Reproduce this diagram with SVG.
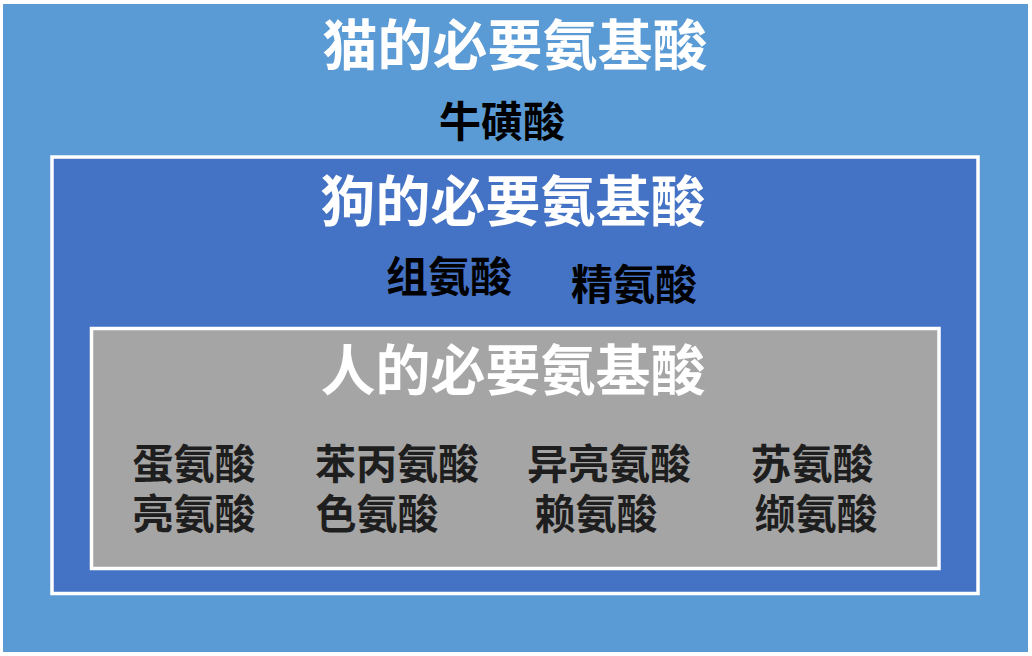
<svg xmlns="http://www.w3.org/2000/svg" width="1032" height="656" viewBox="0 0 1032 656">
<style>
.t{font-family:"Noto Sans CJK SC","Noto Sans CJK JP",sans-serif;font-weight:bold;text-anchor:middle}
.title{font-size:55px;fill:#FFFFFF}
.item{font-size:42px;fill:#000000}
.gitem{font-size:41px;fill:#1E1E1E}
.frame{stroke:#FFFFFF;stroke-width:3.5}
</style>
<rect width="1032" height="656" fill="#FFFFFF"/>
<g id="cat">
<rect x="3" y="4" width="1025" height="648" fill="#5B9BD5"/>
<text class="t title" x="515" y="65">猫的必要氨基酸</text>
<text class="t item" x="502" y="137">牛磺酸</text>
</g>
<g id="dog">
<rect class="frame" x="52" y="157" width="926" height="436.5" fill="#4472C4"/>
<text class="t title" x="513" y="221">狗的必要氨基酸</text>
<text class="t item" x="449" y="292">组氨酸</text>
<text class="t item" x="634" y="300">精氨酸</text>
</g>
<g id="human">
<rect class="frame" x="91.5" y="328.5" width="847.5" height="240" fill="#A5A5A5"/>
<text class="t title" x="513" y="390">人的必要氨基酸</text>
<text class="t gitem" x="194" y="479">蛋氨酸</text>
<text class="t gitem" x="397" y="479">苯丙氨酸</text>
<text class="t gitem" x="609" y="479">异亮氨酸</text>
<text class="t gitem" x="812" y="479">苏氨酸</text>
<text class="t gitem" x="194" y="529">亮氨酸</text>
<text class="t gitem" x="377" y="529">色氨酸</text>
<text class="t gitem" x="596" y="529">赖氨酸</text>
<text class="t gitem" x="816" y="529">缬氨酸</text>
</g>
<g id="connectors"></g>
</svg>
